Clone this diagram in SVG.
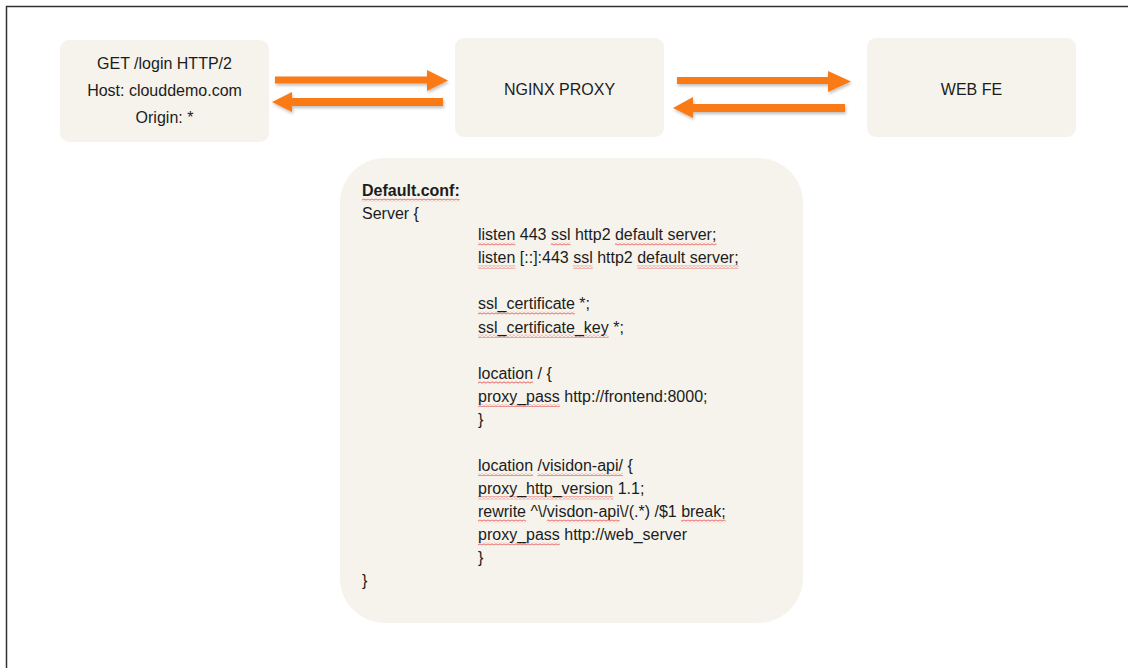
<svg xmlns="http://www.w3.org/2000/svg" width="1128" height="668" viewBox="0 0 1128 668">
<defs>
<style>
.box{fill:#F5F3EC;}
.t{font-family:"Liberation Sans",Arial,sans-serif;font-size:16px;fill:#1c1c1c;}
.c{text-anchor:middle;}
.b{font-weight:bold;}
.arr{fill:#FA7A17;filter:url(#sh);}
.sq{fill:url(#wave);}
</style>
<pattern id="wave" patternUnits="userSpaceOnUse" width="4" height="3">
<path d="M0 0.8 L2 2.2 L4 0.8" fill="none" stroke="#E23B3B" stroke-width="0.8"/>
</pattern>
<filter id="sh" x="-10%" y="-50%" width="120%" height="200%">
<feDropShadow dx="1" dy="2" stdDeviation="1.5" flood-color="#000" flood-opacity="0.25"/>
</filter>
</defs>
<rect width="1128" height="668" fill="#fff"/>
<path d="M6.5 668 V6.5 H1128" fill="none" stroke="#333" stroke-width="1.5"/>

<g id="client">
<rect class="box" x="60" y="40" width="209" height="102" rx="9"/>
<text class="t c" x="164.5" y="68.5">GET /login HTTP/2</text>
<text class="t c" x="164.5" y="96">Host: clouddemo.com</text>
<text class="t c" x="164.5" y="123">Origin: *</text>
</g>

<g id="nginx">
<rect class="box" x="455" y="38" width="209" height="99" rx="9"/>
<text class="t c" x="559.5" y="95">NGINX PROXY</text>
</g>

<g id="webfe">
<rect class="box" x="867" y="38" width="209" height="99" rx="9"/>
<text class="t c" x="971.5" y="95">WEB FE</text>
</g>

<g id="connectors">
<polygon class="arr" points="275,76.5 427,76.5 427,70 448,80.5 427,91 427,83.5 275,83.5"/>
<polygon class="arr" points="443,98 292,98 292,92 272,102 292,112 292,106 443,106"/>
<polygon class="arr" points="677,77 828,77 828,71 851,81.5 828,92 828,84 677,84"/>
<polygon class="arr" points="845,104 693,104 693,97 673,108 693,118 693,112 845,112"/>
</g>

<g id="config">
<rect class="box" x="340" y="158" width="463" height="465" rx="45"/>
<g id="squiggles">
<rect class="sq" x="362" y="198.5" width="97.8" height="3"/>
<rect class="sq" x="478" y="242.5" width="37.3" height="3"/>
<rect class="sq" x="550.9" y="242.5" width="19.6" height="3"/>
<rect class="sq" x="615" y="242.5" width="101.4" height="3"/>
<rect class="sq" x="478" y="265.6" width="37.3" height="3"/>
<rect class="sq" x="573.1" y="265.6" width="19.6" height="3"/>
<rect class="sq" x="637.2" y="265.6" width="101.4" height="3"/>
<rect class="sq" x="478" y="311.7" width="96.9" height="3"/>
<rect class="sq" x="478" y="334.8" width="130.7" height="3"/>
<rect class="sq" x="478" y="381" width="55.1" height="3"/>
<rect class="sq" x="478" y="404" width="81.8" height="3"/>
<rect class="sq" x="478" y="473.2" width="55.1" height="3"/>
<rect class="sq" x="537.6" y="473.2" width="85.4" height="3"/>
<rect class="sq" x="478" y="496.3" width="135.2" height="3"/>
<rect class="sq" x="478" y="519.4" width="48" height="3"/>
<rect class="sq" x="546.9" y="519.4" width="72.9" height="3"/>
<rect class="sq" x="681.1" y="519.4" width="44.5" height="3"/>
<rect class="sq" x="478" y="542.5" width="81.8" height="3"/>
</g>
<text class="t b" x="362" y="196">Default.conf:</text>
<text class="t" x="362" y="219.1">Server {</text>
<text class="t" x="478" y="240.2">listen 443 ssl http2 default server;</text>
<text class="t" x="478" y="263.3">listen [::]:443 ssl http2 default server;</text>
<text class="t" x="478" y="309.4">ssl_certificate *;</text>
<text class="t" x="478" y="332.5">ssl_certificate_key *;</text>
<text class="t" x="478" y="378.6">location / {</text>
<text class="t" x="478" y="401.7">proxy_pass http://frontend:8000;</text>
<text class="t" x="478" y="424.8">}</text>
<text class="t" x="478" y="470.9">location /visidon-api/ {</text>
<text class="t" x="478" y="494">proxy_http_version 1.1;</text>
<text class="t" x="478" y="517.1">rewrite ^\/visdon-api\/(.*) /$1 break;</text>
<text class="t" x="478" y="540.2">proxy_pass http://web_server</text>
<text class="t" x="478" y="563.3">}</text>
<text class="t" x="362" y="586.4">}</text>
</g>
</svg>
